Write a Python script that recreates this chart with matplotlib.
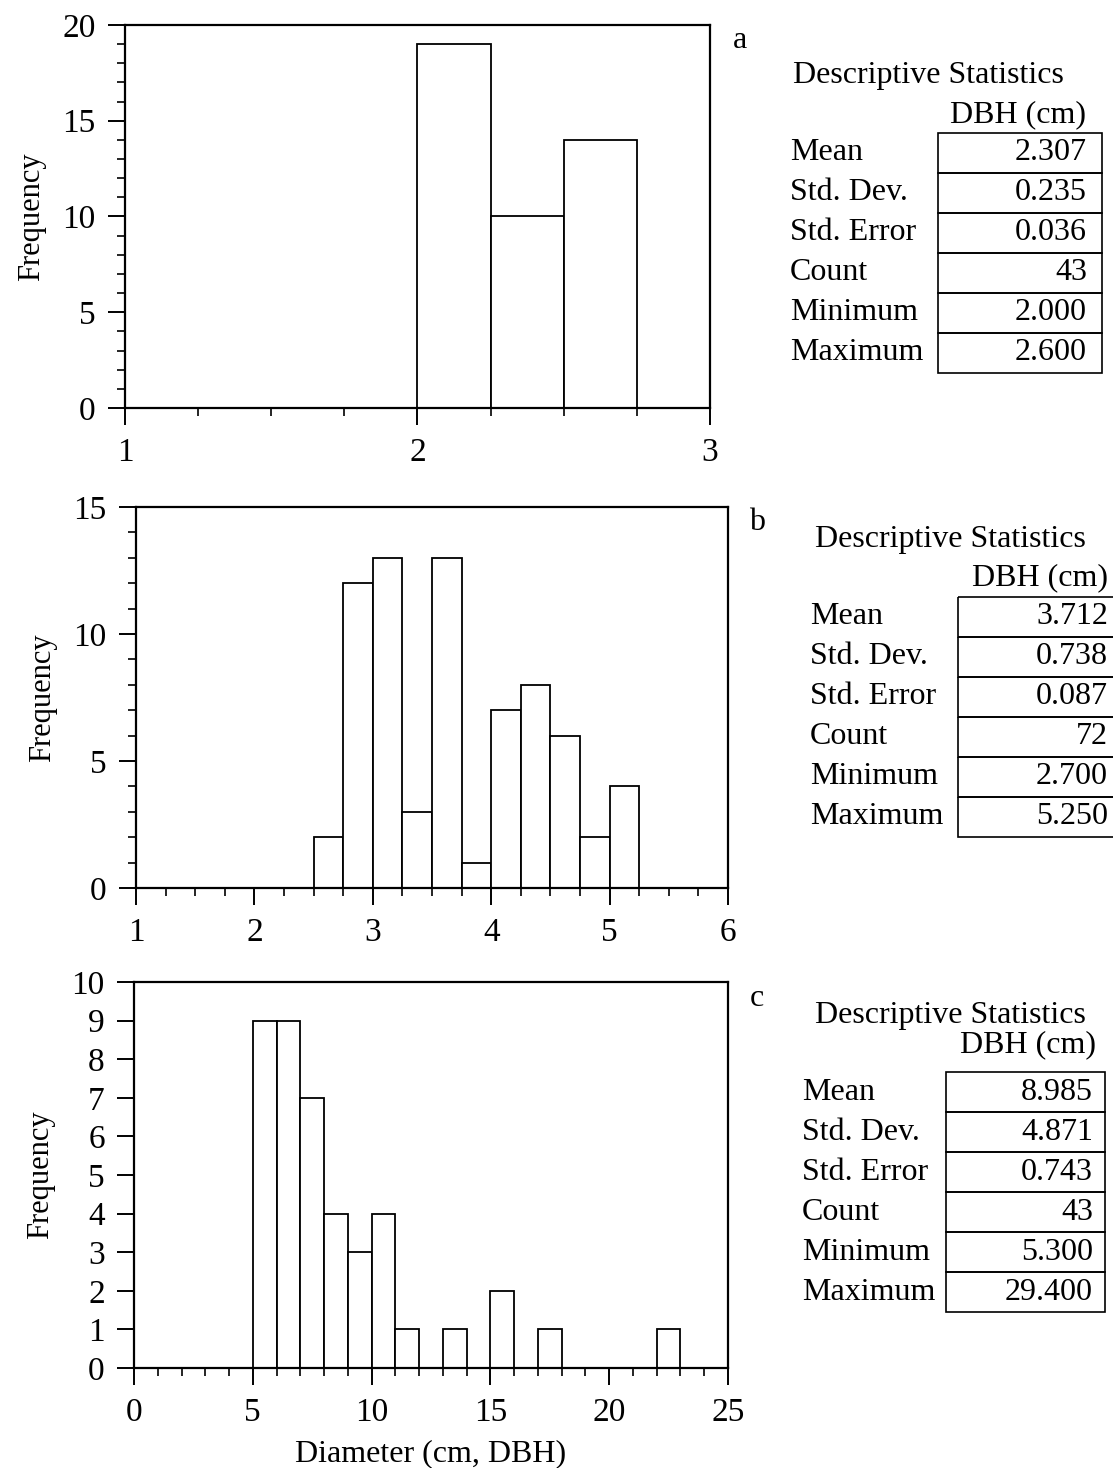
import numpy as np
import matplotlib.pyplot as plt
from matplotlib.patches import Rectangle
from matplotlib.ticker import MultipleLocator

plt.rcParams['font.family'] = ['Liberation Serif', 'DejaVu Serif']

W, H = 1113, 1468

# panel a
a_edges = [2.0, 2.25, 2.5]
a_counts = [19, 10, 14]
a_width = 0.25
a_stats = ['2.307', '0.235', '0.036', '43', '2.000', '2.600']

# panel b
b_edges = [2.5, 2.75, 3.0, 3.25, 3.5, 3.75, 4.0, 4.25, 4.5, 4.75, 5.0]
b_counts = [2, 12, 13, 3, 13, 1, 7, 8, 6, 2, 4]
b_width = 0.25
b_stats = ['3.712', '0.738', '0.087', '72', '2.700', '5.250']

# panel c
c_edges = [5, 6, 7, 8, 9, 10, 11, 12, 13, 14, 15, 16, 17, 18, 19, 20, 21, 22]
c_counts = [9, 9, 7, 4, 3, 4, 1, 0, 1, 0, 2, 0, 1, 0, 0, 0, 0, 1]
c_width = 1
c_stats = ['8.985', '4.871', '0.743', '43', '5.300', '29.400']

stat_names = ['Mean', 'Std. Dev.', 'Std. Error', 'Count', 'Minimum', 'Maximum']

fig = plt.figure(figsize=(W / 100, H / 100), dpi=100)


def px_axes(left, top, right, bottom):
    return fig.add_axes([left / W, 1 - bottom / H, (right - left) / W, (bottom - top) / H])


def style(ax, xlim, ylim, xmaj, xmin, ymaj, ymin):
    ax.set_xlim(*xlim)
    ax.set_ylim(*ylim)
    ax.xaxis.set_major_locator(MultipleLocator(xmaj))
    ax.xaxis.set_minor_locator(MultipleLocator(xmin))
    ax.yaxis.set_major_locator(MultipleLocator(ymaj))
    if ymin:
        ax.yaxis.set_minor_locator(MultipleLocator(ymin))
    for s in ax.spines.values():
        s.set_linewidth(1.6)
    ax.tick_params(which='major', direction='out', length=12, width=1.4,
                   labelsize=24, pad=9)
    ax.tick_params(which='minor', direction='out', length=6, width=1.2)
    ax.set_ylabel('Frequency', fontsize=22, labelpad=12)


def hist(ax, edges, counts, width):
    ax.bar(edges, counts, width=width, align='edge', facecolor='white',
           edgecolor='black', linewidth=1.3, zorder=2)


def table(tab, stats, tx, ty, dbh_x, dbh_y, bl, br, bt, lab_x, val_x, rh=40):
    kw = dict(fontsize=23, va='center')
    tab.text(tx, ty, 'Descriptive Statistics', ha='left', **kw)
    tab.text(dbh_x, dbh_y, 'DBH (cm)', ha='right', **kw)
    for i, (name, v) in enumerate(zip(stat_names, stats)):
        y0 = bt + i * rh
        tab.add_patch(Rectangle((bl, y0), br - bl, rh, fill=False,
                                edgecolor='black', linewidth=1.2))
        tab.text(lab_x, y0 + rh / 2, name, ha='left', **kw)
        tab.text(val_x, y0 + rh / 2, v, ha='right', **kw)


ax1 = px_axes(125, 25, 710, 408)
hist(ax1, a_edges, a_counts, a_width)
style(ax1, (1, 3), (0, 20), 1, 0.25, 5, 1)

ax2 = px_axes(136, 507, 728, 888)
hist(ax2, b_edges, b_counts, b_width)
style(ax2, (1, 6), (0, 15), 1, 0.25, 5, 1)

ax3 = px_axes(134, 982, 728, 1368)
hist(ax3, c_edges, c_counts, c_width)
style(ax3, (0, 25), (0, 10), 5, 1, 1, None)
ax3.set_xlabel('Diameter (cm, DBH)', fontsize=23, labelpad=8)

tab = fig.add_axes([0, 0, 1, 1])
tab.set_xlim(0, W)
tab.set_ylim(H, 0)
tab.axis('off')

tab.text(740, 40, 'a', fontsize=23, ha='center', va='center')
tab.text(757, 522, 'b', fontsize=23, ha='center', va='center')
tab.text(757, 998, 'c', fontsize=23, ha='center', va='center')

table(tab, a_stats, 793, 76, 1086, 115, 938, 1102, 133, 790, 1087)
table(tab, b_stats, 815, 539, 1108, 578, 958, 1130, 597, 810, 1108)
table(tab, c_stats, 815, 1015, 1096, 1045, 946, 1105, 1072, 802, 1093)

fig.savefig('out.png', dpi=100)
